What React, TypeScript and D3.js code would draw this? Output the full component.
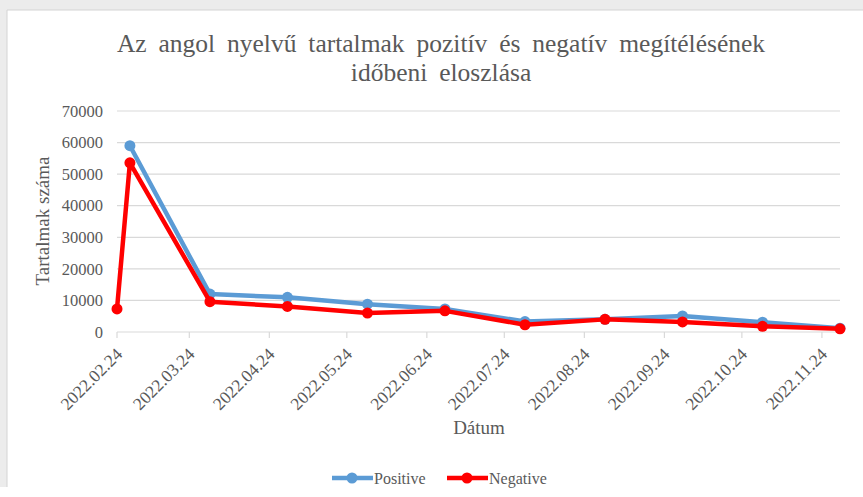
import React from "react";
import * as d3 from "d3";

const dates = ["2022-02-24", "2022-03-01", "2022-04-01", "2022-05-01", "2022-06-01", "2022-07-01", "2022-08-01", "2022-09-01", "2022-10-01", "2022-11-01", "2022-12-01"];
const positive: (number | null)[] = [null, 59000, 12000, 11000, 8800, 7300, 3300, 4000, 5100, 3100, 1200];
const negative: (number | null)[] = [7300, 53600, 9600, 8100, 6000, 6700, 2300, 4000, 3200, 1800, 1000];
const tickDates = ["2022-02-24", "2022-03-24", "2022-04-24", "2022-05-24", "2022-06-24", "2022-07-24", "2022-08-24", "2022-09-24", "2022-10-24", "2022-11-24"];
const yTicks = [0, 10000, 20000, 30000, 40000, 50000, 60000, 70000];
const titleLines = ["Az angol nyelvű tartalmak pozitív és negatív megítélésének", "időbeni eloszlása"];
const series = [
  { name: "Positive", values: positive, color: "#5B9BD5" },
  { name: "Negative", values: negative, color: "#FF0000" },
];

const W = 863, H = 497;
const parse = d3.utcParse("%Y-%m-%d");
const fmtTick = d3.utcFormat("%Y.%m.%d");
const FONT = "Liberation Serif, Times New Roman, serif";
const TXT = "#595959";
const ts = { fontFamily: FONT };

export default function App() {
  const x = d3.scaleUtc().domain([parse(dates[0])!, parse(dates[dates.length - 1])!]).range([117, 840]);
  const y = d3.scaleLinear().domain([0, 70000]).range([332, 111]);
  const pts = dates.map((d) => parse(d)!);
  const line = d3.line<[Date, number | null]>()
    .defined((d) => d[1] != null)
    .x((d) => x(d[0]))
    .y((d) => y(d[1] as number));

  return (
    <svg width={W} height={H} style={{ position: "absolute", left: 0, top: 0, background: "#fff" }}>
      <rect x={0} y={0} width={W} height={10} fill="#ececec" />
      <rect x={0} y={0} width={7} height={487} fill="#ececec" />
      <line x1={7} x2={W} y1={10} y2={10} stroke="#d4d4d4" strokeWidth={1} />
      <line x1={7} x2={7} y1={10} y2={487} stroke="#d4d4d4" strokeWidth={1} />

      {titleLines.map((t, i) => (
        <text key={i} x={441} y={52 + i * 29} textAnchor="middle" fontSize={25.5} fill={TXT} wordSpacing={5.5} style={ts}>{t}</text>
      ))}

      {yTicks.map((v) => (
        <g key={v}>
          <line x1={117} x2={840} y1={y(v)} y2={y(v)} stroke="#d9d9d9" strokeWidth={1.2} />
          <text x={103} y={y(v)} dy="0.35em" textAnchor="end" fontSize={16.5} fill={TXT} style={ts}>{v}</text>
        </g>
      ))}
      {tickDates.map((d) => {
        const tx = x(parse(d)!);
        return (
          <g key={d}>
            <line x1={tx} x2={tx} y1={332} y2={338} stroke="#d9d9d9" strokeWidth={1.2} />
            <text transform={`translate(${tx + 2},${351}) rotate(-45)`} textAnchor="end" dy="0.35em" fontSize={17.5} fill={TXT} style={ts}>{fmtTick(parse(d)!)}</text>
          </g>
        );
      })}

      <text transform={`translate(49,221) rotate(-90)`} textAnchor="middle" fontSize={19} fill={TXT} style={ts}>Tartalmak száma</text>
      <text x={479} y={434} textAnchor="middle" fontSize={19} fill={TXT} style={ts}>Dátum</text>

      {series.map((s) => {
        const data = pts.map((p, i) => [p, s.values[i]] as [Date, number | null]);
        return (
          <g key={s.name}>
            <path d={line(data) || ""} fill="none" stroke={s.color} strokeWidth={4.5} strokeLinejoin="round" />
            {data.filter((d) => d[1] != null).map((d, i) => (
              <circle key={i} cx={x(d[0])} cy={y(d[1] as number)} r={5.5} fill={s.color} />
            ))}
          </g>
        );
      })}

      {series.map((s, i) => {
        const lx = 332 + i * 115;
        return (
          <g key={s.name}>
            <line x1={lx} x2={lx + 41} y1={478} y2={478} stroke={s.color} strokeWidth={4.5} />
            <circle cx={lx + 20} cy={478} r={5.5} fill={s.color} />
            <text x={lx + 42} y={478} dy="0.35em" fontSize={16} fill={TXT} style={ts}>{s.name}</text>
          </g>
        );
      })}
    </svg>
  );
}
